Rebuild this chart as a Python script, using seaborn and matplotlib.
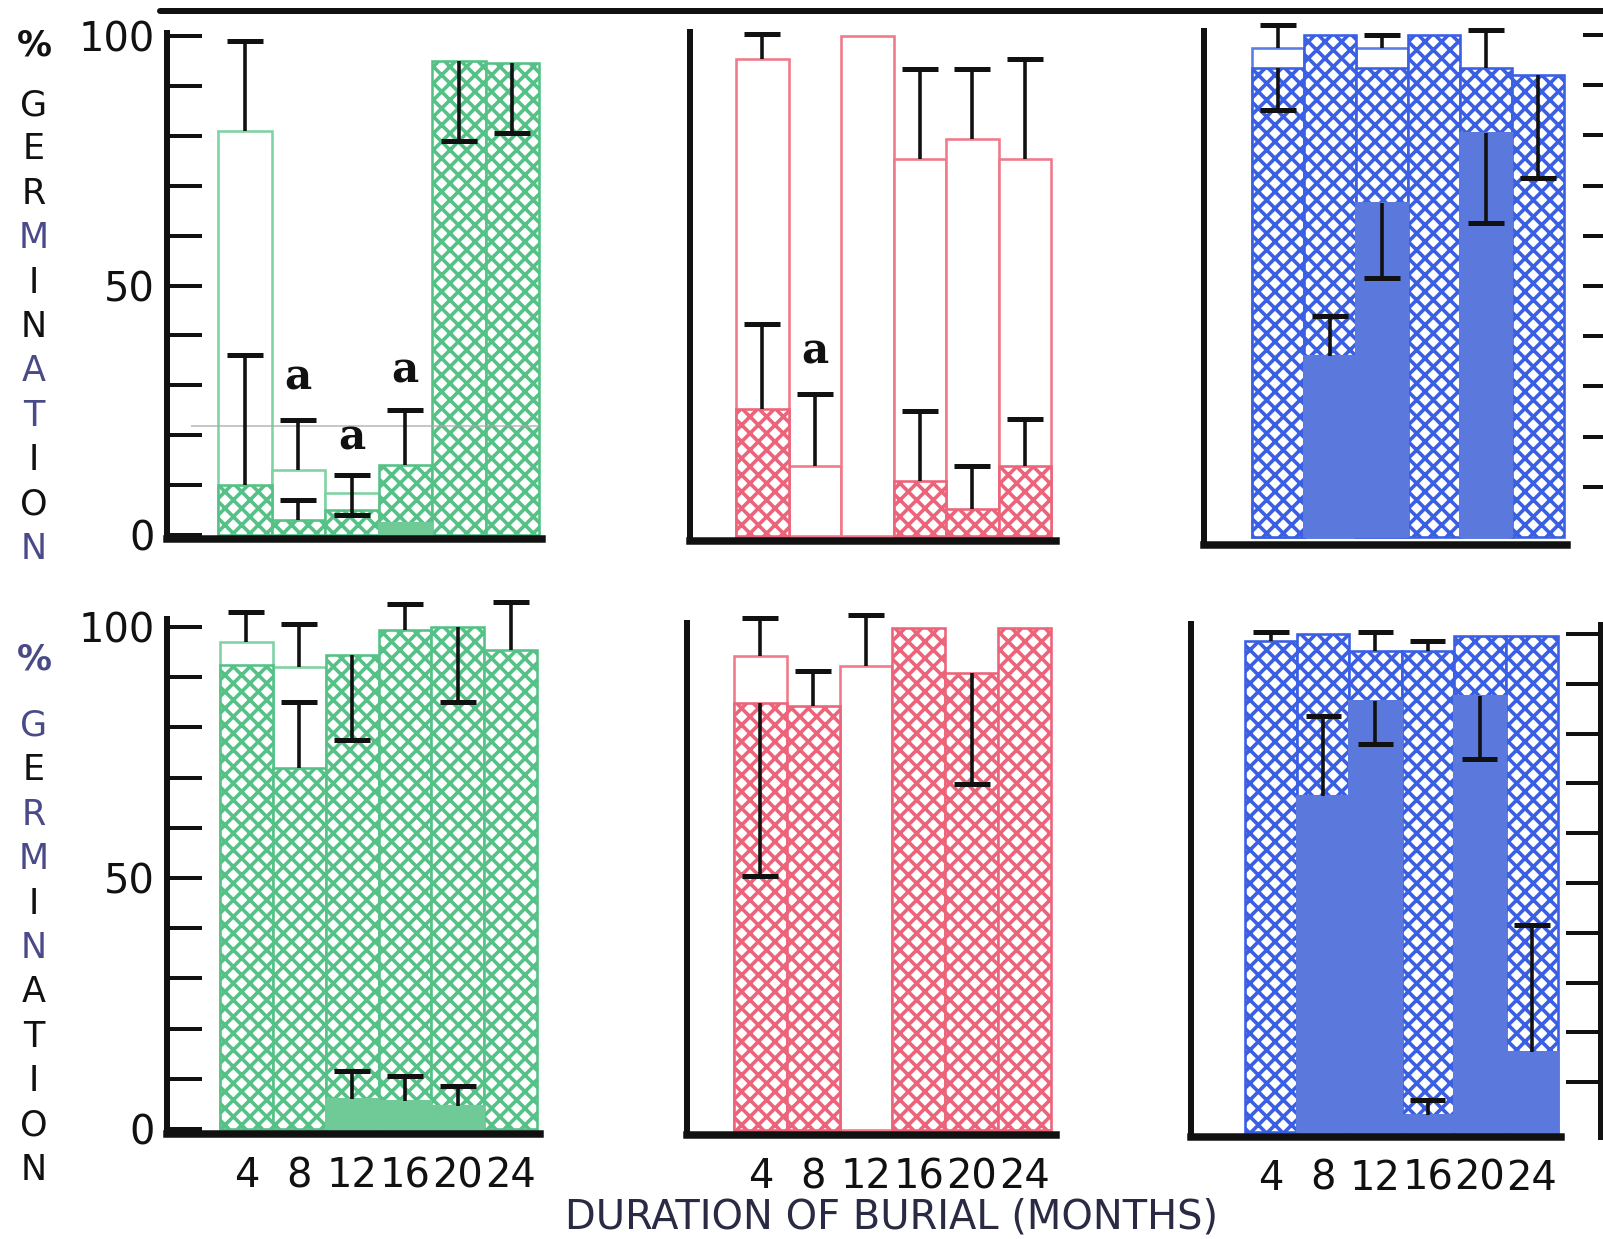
import numpy as np
import pandas as pd
import matplotlib
matplotlib.use("Agg")
import matplotlib.pyplot as plt
from matplotlib.lines import Line2D
import seaborn as sns

nan = np.nan

# ---------------------------------------------------------------- data
months = ["4", "8", "12", "16", "20", "24"]
y_ticks = [0, 10, 20, 30, 40, 50, 60, 70, 80, 90, 100]
y_tick_labels = ["0", "", "", "", "", "50", "", "", "", "", "100"]

# top row, green
tg_open = [81, 13, 8.5, nan, nan, nan]
tg_open_up = [18, 10, 3.5, 0, 0, 0]
tg_open_dn = [0, 0, 4.5, 0, 0, 0]
tg_hatch = [10, 3, 5, 14, 95, 94.5]
tg_hatch_up = [26, 4, 0, 11, 0, 0]
tg_hatch_dn = [0, 0, 0, 0, 16, 14]
tg_solid = [nan, nan, nan, 2.5, nan, nan]
tg_letter_x = [1, 2, 3]
tg_letter_y = [31.5, 19.5, 33]

# top row, red
tr_open = [95.5, 14, 100, 75.5, 79.5, 75.5]
tr_open_up = [5, 14.5, 0, 18, 14, 20]
tr_hatch = [25.5, nan, nan, 11, 5.5, 14]
tr_hatch_up = [17, 0, 0, 14, 8.5, 9.5]
tr_letter_x = [1]
tr_letter_y = [37]

# top row, blue
tb_open = [97.5, nan, 97.5, nan, nan, nan]
tb_open_up = [4.5, 0, 2.5, 0, 0, 0]
tb_hatch = [93.5, 100, 93.5, 100, 93.5, 92]
tb_hatch_up = [0, 0, 0, 0, 7.5, 0]
tb_hatch_dn = [8.5, 0, 0, 0, 0, 20.5]
tb_solid = [nan, 36, 66.5, nan, 80.5, nan]
tb_solid_up = [0, 8, 0, 0, 0, 0]
tb_solid_dn = [0, 0, 15, 0, 18, 0]

# bottom row, green
bg_open = [97, 92, nan, nan, nan, nan]
bg_open_up = [6, 8.5, 0, 0, 0, 0]
bg_hatch = [92.5, 72, 94.5, 99.5, 100, 95.5]
bg_hatch_up = [0, 13, 0, 5, 0, 9.5]
bg_hatch_dn = [0, 0, 17, 0, 15, 0]
bg_solid = [nan, nan, 6, 5.5, 4.5, nan]
bg_solid_up = [0, 0, 5.5, 5, 4, 0]

# bottom row, red
br_open = [94.5, nan, 92.5, nan, nan, nan]
br_open_up = [7.5, 0, 10, 0, 0, 0]
br_hatch = [85, 84.5, nan, 100, 91, 100]
br_hatch_up = [0, 7, 0, 0, 0, 0]
br_hatch_dn = [34.5, 0, 0, 0, 22, 0]

# bottom row, blue
bb_hatch = [98.5, 100, 96.5, 96.5, 99.5, 99.5]
bb_hatch_up = [2, 0, 4, 2, 0, 0]
bb_solid = [nan, 67.5, 86.5, 3.5, 87.5, 16]
bb_solid_up = [0, 16, 0, 3, 0, 25.5]
bb_solid_dn = [0, 0, 8.5, 0, 12.5, 0]

ylabel_letters = ["%", "G", "E", "R", "M", "I", "N", "A", "T", "I", "O", "N"]
xlabel_text = "DURATION OF BURIAL (MONTHS)"

# ---------------------------------------------------------------- style
GREEN = "#55c187"
GREEN_OPEN = "#7fd3a2"
GREEN_SOLID = "#6fca97"
RED = "#ec6479"
RED_OPEN = "#f07a8a"
BLUE = "#3a5fe2"
BLUE_OPEN = "#5a7ee6"
BLUE_SOLID = "#5b79dd"
INK = "#111111"
INK_PURPLE = "#4a4a88"

W, H, DPI = 1603, 1239, 50


def pt(px):
    """Convert a size in output pixels to points."""
    return px * 72.0 / DPI


sns.set_theme(style="white")
plt.rcParams["font.family"] = ["DejaVu Sans"]
plt.rcParams["hatch.linewidth"] = pt(3.6)

fig = plt.figure(figsize=(W / DPI, H / DPI), dpi=DPI)
fig.patch.set_facecolor("white")


def fx(px):
    return px / W


def fy(py):
    return 1 - py / H


def make_axes(spine_px, bar0_px, bar6_px, y0_px, y100_px, ymin, ymax, xmax):
    ppx = (bar6_px - bar0_px) / 6.0
    xmin = -0.5 - (bar0_px - spine_px) / ppx
    right = bar0_px + (xmax + 0.5) * ppx
    ppy = (y0_px - y100_px) / 100.0
    top = y100_px - (ymax - 100) * ppy
    bottom = y0_px - ymin * ppy
    ax = fig.add_axes([fx(spine_px), fy(bottom), fx(right - spine_px),
                       (bottom - top) / H])
    ax.set_facecolor("none")
    return ax, (xmin, xmax), (ymin, ymax)


def draw_layer(ax, values, color, kind, z):
    n0 = len(ax.patches)
    df = pd.DataFrame({"month": months, "pct": values})
    sns.barplot(data=df, x="month", y="pct", order=months, color=color,
                width=1.0, saturation=1, errorbar=None, ax=ax, zorder=z)
    for p in ax.patches[n0:]:
        p.set_clip_on(False)
        if kind == "open":
            p.set_facecolor("white")
            p.set_edgecolor(color)
            p.set_linewidth(pt(2.6))
        elif kind == "hatch":
            p.set_facecolor("white")
            p.set_edgecolor(color)
            p.set_hatch("x")
            p.set_linewidth(pt(2.6))
        else:
            p.set_facecolor(color)
            p.set_edgecolor(color)
            p.set_linewidth(pt(2.0))


def draw_errors(ax, values, up=None, dn=None):
    v = np.asarray(values, float)
    x = np.arange(len(v), dtype=float)
    up = np.zeros_like(v) if up is None else np.asarray(up, float)
    dn = np.zeros_like(v) if dn is None else np.asarray(dn, float)
    has = ((up > 0) | (dn > 0)) & ~np.isnan(v)
    cap = 0.34
    ax.vlines(x[has], (v - dn)[has], (v + up)[has], colors=INK, lw=pt(3.6),
              zorder=8, clip_on=False)
    mu = (up > 0) & has
    ax.hlines((v + up)[mu], x[mu] - cap, x[mu] + cap, colors=INK,
              lw=pt(5.0), zorder=8, clip_on=False)
    md = (dn > 0) & has
    ax.hlines((v - dn)[md], x[md] - cap, x[md] + cap, colors=INK,
              lw=pt(5.0), zorder=8, clip_on=False)


def draw_letters(ax, xs, ys):
    for x, y in zip(xs, ys):
        ax.text(x, y, "a", ha="center", va="center", fontsize=pt(42),
                family="DejaVu Serif", weight="bold", color=INK, zorder=9)


def finish(ax, xlim, ylim, left_ticks=False, right_ticks=None,
           show_xlabels=False, right_spine=False, bottom_end=None):
    ax.set_xlim(*xlim)
    ax.set_ylim(*ylim)
    ax.set(xlabel="", ylabel="")
    for s in ("top", "right"):
        ax.spines[s].set_visible(False)
    ax.spines["left"].set_linewidth(pt(6))
    ax.spines["left"].set_color(INK)
    ax.spines["bottom"].set_linewidth(pt(7.5))
    ax.spines["bottom"].set_color(INK)
    ax.spines["left"].set_zorder(10)
    ax.spines["bottom"].set_zorder(10)
    if bottom_end is not None:
        ax.spines["bottom"].set_bounds(xlim[0], bottom_end)
    if right_spine:
        ax.spines["right"].set_visible(True)
        ax.spines["right"].set_linewidth(pt(5))
        ax.spines["right"].set_color(INK)
    ax.set_xticks(range(len(months)))
    if show_xlabels:
        ax.set_xticklabels(months)
        ax.tick_params(axis="x", length=0, pad=pt(22), labelsize=pt(40),
                       labelcolor=INK)
    else:
        ax.tick_params(axis="x", length=0, labelbottom=False)
    if left_ticks:
        ax.set_yticks(y_ticks)
        ax.set_yticklabels(y_tick_labels)
        ax.tick_params(axis="y", direction="in", length=pt(35), width=pt(4),
                       color=INK, pad=pt(12), labelsize=pt(40),
                       labelcolor=INK, left=True)
    elif right_ticks is not None:
        ax.yaxis.tick_right()
        ax.set_yticks(y_ticks[1:])
        ax.tick_params(axis="y", direction="in", length=pt(right_ticks),
                       width=pt(4), color=INK, labelright=False, right=True,
                       left=False, labelleft=False)
    else:
        ax.set_yticks([])
    ax.grid(False)


# ---------------------------------------------------------------- top row
ax, xl, yl = make_axes(167, 218, 539, 535, 36, -0.9, 100.6, 5.55)
draw_layer(ax, tg_open, GREEN_OPEN, "open", 2)
draw_layer(ax, tg_hatch, GREEN, "hatch", 3)
draw_layer(ax, tg_solid, GREEN_SOLID, "solid", 4)
draw_errors(ax, tg_open, tg_open_up, tg_open_dn)
draw_errors(ax, tg_hatch, tg_hatch_up, tg_hatch_dn)
draw_letters(ax, tg_letter_x, tg_letter_y)
ax.hlines(21.8, -1.0, 5.5, colors="#a8a8a8", lw=pt(1.6), zorder=7,
          alpha=0.8)
finish(ax, xl, yl, left_ticks=True)

ax, xl, yl = make_axes(690, 736, 1051, 536, 36, -1.0, 100.8, 5.6)
draw_layer(ax, tr_open, RED_OPEN, "open", 2)
draw_layer(ax, tr_hatch, RED, "hatch", 3)
draw_errors(ax, tr_open, tr_open_up)
draw_errors(ax, tr_hatch, tr_hatch_up)
draw_letters(ax, tr_letter_x, tr_letter_y)
finish(ax, xl, yl)

ax, xl, yl = make_axes(1204, 1252, 1564, 537, 35, -1.6, 100.8, 6.35)
draw_layer(ax, tb_open, BLUE_OPEN, "open", 2)
draw_layer(ax, tb_hatch, BLUE, "hatch", 3)
draw_layer(ax, tb_solid, BLUE_SOLID, "solid", 4)
draw_errors(ax, tb_open, tb_open_up)
draw_errors(ax, tb_hatch, tb_hatch_up, tb_hatch_dn)
draw_errors(ax, tb_solid, tb_solid_up, tb_solid_dn)
finish(ax, xl, yl, right_ticks=25, bottom_end=5.55)

# ---------------------------------------------------------------- bottom row
ax, xl, yl = make_axes(167, 220, 537, 1129, 627, -1.0, 101.5, 5.55)
draw_layer(ax, bg_open, GREEN_OPEN, "open", 2)
draw_layer(ax, bg_hatch, GREEN, "hatch", 3)
draw_layer(ax, bg_solid, GREEN_SOLID, "solid", 4)
draw_errors(ax, bg_open, bg_open_up)
draw_errors(ax, bg_hatch, bg_hatch_up, bg_hatch_dn)
draw_errors(ax, bg_solid, bg_solid_up)
finish(ax, xl, yl, left_ticks=True, show_xlabels=True)

ax, xl, yl = make_axes(687, 734, 1051, 1130, 628, -1.0, 101.0, 5.6)
draw_layer(ax, br_open, RED_OPEN, "open", 2)
draw_layer(ax, br_hatch, RED, "hatch", 3)
draw_errors(ax, br_open, br_open_up)
draw_errors(ax, br_hatch, br_hatch_up, br_hatch_dn)
finish(ax, xl, yl, show_xlabels=True)

ax, xl, yl = make_axes(1191, 1245, 1558, 1132, 634, -1.0, 102.0, 6.3)
draw_layer(ax, bb_hatch, BLUE, "hatch", 3)
draw_layer(ax, bb_solid, BLUE_SOLID, "solid", 4)
draw_errors(ax, bb_hatch, bb_hatch_up)
draw_errors(ax, bb_solid, bb_solid_up, bb_solid_dn)
finish(ax, xl, yl, right_ticks=34, show_xlabels=True, right_spine=True,
       bottom_end=5.55)

# ---------------------------------------------------------------- frame text
fig.add_artist(Line2D([fx(160), fx(1603)], [fy(11), fy(11)], lw=pt(6),
                      color=INK, transform=fig.transFigure))

top_colors = [INK, INK, INK, INK, INK_PURPLE, INK, INK, INK_PURPLE,
              INK_PURPLE, INK, INK, INK_PURPLE]
bot_colors = [INK_PURPLE, INK_PURPLE, INK, INK_PURPLE, INK_PURPLE, INK,
              INK_PURPLE, INK, INK, INK, INK, INK]
for row_top, first_gap, colors in ((46, 59, top_colors),
                                   (659, 67, bot_colors)):
    y = row_top
    for i, (ch, c) in enumerate(zip(ylabel_letters, colors)):
        fig.text(fx(34), fy(y), ch, ha="center", va="center",
                 fontsize=pt(35), weight="bold" if ch == "%" else "normal",
                 color=c)
        y += first_gap if i == 0 else 44.4

fig.text(fx(892), fy(1217), xlabel_text, ha="center", va="center",
         fontsize=pt(40), color="#2a2a44")

fig.savefig("out.png", dpi=DPI, facecolor="white")
